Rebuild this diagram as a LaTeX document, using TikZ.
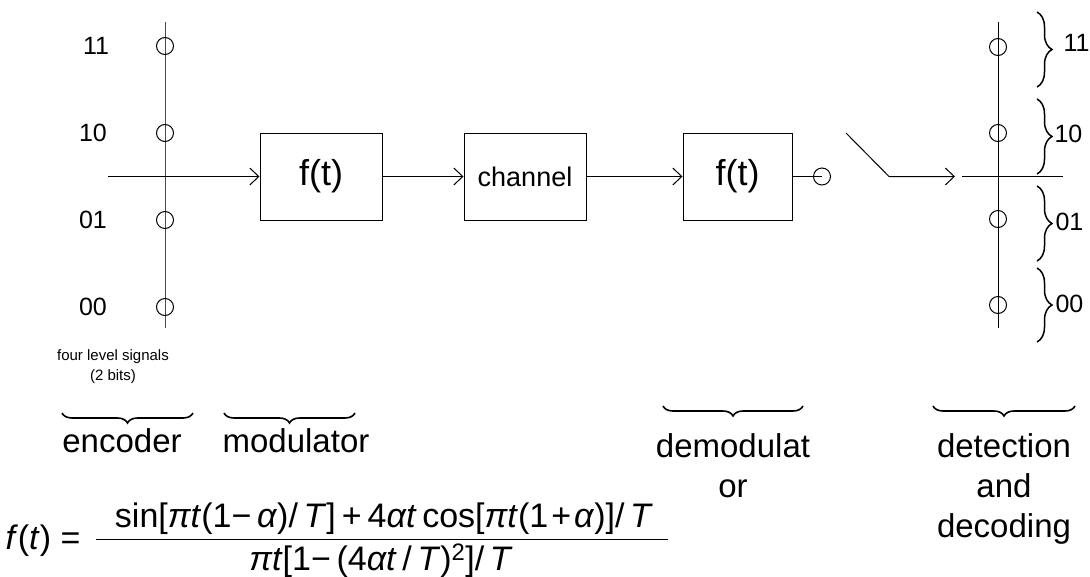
\documentclass[tikz,border=0pt]{standalone}
\usepackage{fontspec}
\setmainfont{Liberation Sans}
\usetikzlibrary{arrows.meta,decorations.pathreplacing}
\newcommand\fsz[2]{\fontsize{#1}{#2}\selectfont}
\begin{document}
\begin{tikzpicture}[x=1pt,y=-1pt,line width=1pt,
  blk/.style={draw, minimum width=122pt, minimum height=87pt, inner sep=0pt},
  tipline/.style={-{Straight Barb[length=9pt,width=17pt,line width=1pt]}},
  lvl/.style={draw, circle, minimum size=17pt, inner sep=0pt},
  axislbl/.style={font=\fsz{25}{28}, inner sep=0pt},
  rbrace/.style={decorate, decoration={brace, amplitude=15pt, aspect=0.5}, line width=1.5pt},
  bbrace/.style={decorate, decoration={brace, amplitude=10pt, aspect=0.5}, line width=1.6pt},
  lbl/.style={font=\fsz{33}{40}, align=center, inner sep=0pt},
  frm/.style={font=\fsz{34}{36}, inner sep=0pt}
]
\useasboundingbox (0,0) rectangle (1090,576);

% ---- left level axis
\coordinate (la-top) at (165,22);
\coordinate (la-bot) at (165,328);
\draw[black!70] (la-top) -- (la-bot);
\node[lvl] (l11) at (165,46) {};
\node[lvl] (l10) at (165,133) {};
\node[lvl] (l01) at (165,220) {};
\node[lvl] (l00) at (165,307) {};
\node[axislbl] (t11) at (96,46) {11};
\node[axislbl] (t10) at (93,133) {10};
\node[axislbl] (t01) at (93,220) {01};
\node[axislbl] (t00) at (93,307) {00};

% ---- blocks
\node[blk, font=\fsz{36}{40}] (mod) at (321,176.5) {f(t)};
\node[blk, font=\fsz{27}{30}] (chan) at (525,176.5) {channel};
\node[blk, minimum width=109pt, font=\fsz{36}{40}] (dem) at (737.5,176.5) {f(t)};

\coordinate (in) at (108,176.5);
\draw[tipline] (in) -- (mod.west);
\draw[tipline] (mod.east) -- (chan.west);
\draw[tipline] (chan.east) -- (dem.west);

\node[lvl] (samp) at (822,176.5) {};
\draw (dem.east) -- (samp.center);

% ---- switch
\coordinate (sw1) at (846,133);
\coordinate (sw2) at (889,176.5);
\coordinate (swtip) at (955,176.5);
\draw[tipline] (sw1) -- (sw2) -- (swtip);

% ---- right decision axis
\coordinate (rh1) at (962,176.5);
\coordinate (rh2) at (1063,176.5);
\draw (rh1) -- (rh2);
\coordinate (ra-top) at (998,22);
\coordinate (ra-bot) at (998,328);
\draw (ra-top) -- (ra-bot);
\node[lvl] (r11) at (998,47) {};
\node[lvl] (r10) at (998,133) {};
\node[lvl] (r01) at (998,219) {};
\node[lvl] (r00) at (998,305) {};

\draw[rbrace] (1037,12) -- (1037,87);
\draw[rbrace] (1037,99) -- (1037,174);
\draw[rbrace] (1037,186) -- (1037,261);
\draw[rbrace] (1037,268) -- (1037,342);
\node[axislbl, anchor=west] (d11) at (1063,43) {11};
\node[axislbl, anchor=west] (d10) at (1054,134) {10};
\node[axislbl, anchor=west] (d01) at (1055,222) {01};
\node[axislbl, anchor=west] (d00) at (1055,304) {00};

% ---- captions
\node[font=\fsz{15}{20}, align=center, inner sep=0pt] (fls) at (113,367) {four level signals\\(2 bits)};

\draw[bbrace] (193,413) -- (62,413);
\draw[bbrace] (355,413) -- (224,413);
\draw[bbrace] (803,406) -- (663,406);
\draw[bbrace] (1075,406) -- (933,406);

\node[lbl, anchor=base] (enc) at (122,452) {encoder};
\node[lbl, anchor=base] (modl) at (296,452) {modulator};
\node[lbl, anchor=north] (deml) at (733,433) {demodulat\\or};
\node[lbl, anchor=north] (detl) at (1004,433) {detection\\and\\decoding};

% ---- formula
\node[frm, anchor=base west] (feq) at (5,549) {\textit{f}(\textit{t}) =};
\coordinate (bar-l) at (96,539);
\coordinate (bar-r) at (668,539);
\draw (bar-l) -- (bar-r);
\node[frm, anchor=base] (num) at (384,527)
  {sin[\textit{πt}(1−\,\textit{α})/\,\textit{T}]\hspace{6pt}+\hspace{6pt}4\textit{αt}\,cos[\textit{πt}(1\hspace{3pt}+\hspace{3pt}\textit{α})]/\,\textit{T}};
\node[frm, anchor=base] (den) at (381,570)
  {\textit{πt}[1−\,(4\textit{αt}\,/\,\textit{T})\textsuperscript{2}]/\,\textit{T}};
\end{tikzpicture}
\end{document}
